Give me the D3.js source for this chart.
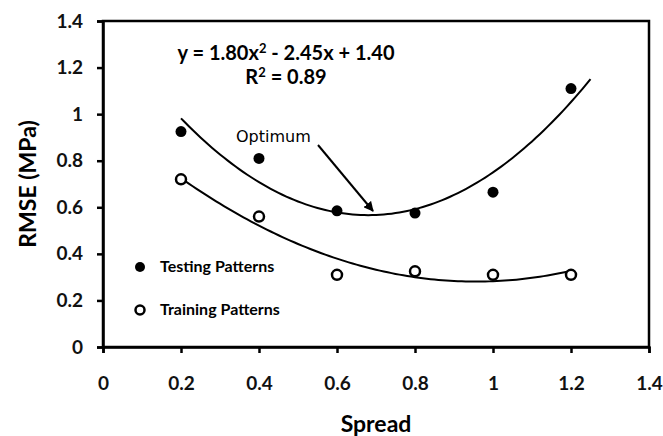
<!DOCTYPE html>
<html>
<head>
<meta charset="utf-8">
<script src="https://cdn.jsdelivr.net/npm/d3@7"></script>
<style>
  body { margin: 0; background: #fff; }
  svg { display: block; font-family: Lato, "Open Sans", sans-serif; }
</style>
</head>
<body>
<svg width="663" height="436"></svg>
<script>
const spread = [0.2, 0.4, 0.6, 0.8, 1.0, 1.2];
const testing = [0.925, 0.81, 0.585, 0.575, 0.665, 1.11];
const training = [0.72, 0.56, 0.31, 0.325, 0.31, 0.31];
const xTicks = [0, 0.2, 0.4, 0.6, 0.8, 1, 1.2, 1.4];
const yTicks = [0, 0.2, 0.4, 0.6, 0.8, 1, 1.2, 1.4];
// trend for testing, as printed on the chart
const testCoef = [1.40, -2.45, 1.80];

const svg = d3.select('svg');
const margin = { left: 103, right: 14, top: 21, bottom: 89 };
const W = 663, H = 436;

const x = d3.scaleLinear().domain([0, 1.4]).range([margin.left, W - margin.right]);
const y = d3.scaleLinear().domain([0, 1.4]).range([H - margin.bottom, margin.top]);

// least squares quadratic for the training points
function quadFit(xs, ys) {
  let s = [0, 0, 0, 0, 0], t = [0, 0, 0];
  xs.forEach((xi, i) => {
    for (let k = 0; k < 5; k++) s[k] += Math.pow(xi, k);
    for (let k = 0; k < 3; k++) t[k] += Math.pow(xi, k) * ys[i];
  });
  const A = [[s[0], s[1], s[2], t[0]], [s[1], s[2], s[3], t[1]], [s[2], s[3], s[4], t[2]]];
  for (let i = 0; i < 3; i++) {
    for (let j = i + 1; j < 3; j++) {
      const f = A[j][i] / A[i][i];
      for (let k = i; k < 4; k++) A[j][k] -= f * A[i][k];
    }
  }
  const c = [0, 0, 0];
  for (let i = 2; i >= 0; i--) {
    let v = A[i][3];
    for (let k = i + 1; k < 3; k++) v -= A[i][k] * c[k];
    c[i] = v / A[i][i];
  }
  return c;
}
const trainCoef = quadFit(spread, training);
const poly = (c, v) => c[0] + c[1] * v + c[2] * v * v;

// frame
svg.append('rect')
  .attr('x', x(0)).attr('y', y(1.4))
  .attr('width', x(1.4) - x(0)).attr('height', y(0) - y(1.4))
  .attr('fill', 'none').attr('stroke', '#000').attr('stroke-width', 2.5);

const xAxis = svg.append('g')
  .attr('transform', `translate(0,${y(0)})`)
  .call(d3.axisBottom(x).tickValues(xTicks).tickSize(6).tickPadding(24).tickFormat(d3.format('')));
const yAxis = svg.append('g')
  .attr('transform', `translate(${x(0)},0)`)
  .call(d3.axisLeft(y).tickValues(yTicks).tickSize(6).tickPadding(14).tickFormat(d3.format('')));
[xAxis, yAxis].forEach(g => {
  g.select('.domain').attr('stroke-width', 2.5);
  g.selectAll('.tick line').attr('stroke-width', 2.5);
  g.selectAll('.tick text').attr('font-size', 19).attr('font-weight', 'bold')
    .attr('font-family', 'Lato, sans-serif').attr('fill', '#111');
});

svg.append('text')
  .attr('x', (x(0) + x(1.4)) / 2).attr('y', 432)
  .attr('text-anchor', 'middle').attr('font-size', 23).attr('font-weight', 'bold')
  .text('Spread');
svg.append('text')
  .attr('transform', `translate(36,${(y(0) + y(1.4)) / 2}) rotate(-90)`)
  .attr('text-anchor', 'middle').attr('font-size', 23).attr('font-weight', 'bold')
  .text('RMSE (MPa)');

// trend lines
const line = d3.line().x(d => x(d[0])).y(d => y(d[1]));
const testPts = d3.range(0.2, 1.2501, 0.01).map(v => [v, poly(testCoef, v)]);
const trainPts = d3.range(0.2, 1.2001, 0.01).map(v => [v, poly(trainCoef, v)]);
[testPts, trainPts].forEach(p => {
  svg.append('path').attr('d', line(p))
    .attr('fill', 'none').attr('stroke', '#000').attr('stroke-width', 2);
});

// points
svg.selectAll('.test').data(spread).join('circle')
  .attr('cx', d => x(d)).attr('cy', (d, i) => y(testing[i]))
  .attr('r', 5.5).attr('fill', '#000');
svg.selectAll('.train').data(spread).join('circle')
  .attr('cx', d => x(d)).attr('cy', (d, i) => y(training[i]))
  .attr('r', 5).attr('fill', '#fff').attr('stroke', '#000').attr('stroke-width', 2.5);

// legend
svg.append('circle').attr('cx', 140).attr('cy', 267).attr('r', 5).attr('fill', '#000');
svg.append('circle').attr('cx', 140).attr('cy', 310).attr('r', 4.5)
  .attr('fill', '#fff').attr('stroke', '#000').attr('stroke-width', 2.5);
svg.append('text').attr('x', 160).attr('y', 272).attr('font-size', 16).attr('font-weight', 'bold')
  .text('Testing Patterns');
svg.append('text').attr('x', 160).attr('y', 315).attr('font-size', 16).attr('font-weight', 'bold')
  .text('Training Patterns');

// equation
const eq = svg.append('text').attr('x', 286).attr('y', 60).attr('text-anchor', 'middle')
  .attr('font-size', 20).attr('font-weight', 'bold');
eq.append('tspan').text('y = 1.80x');
eq.append('tspan').attr('font-size', 13).attr('dy', -7).text('2');
eq.append('tspan').attr('dy', 7).text(' - 2.45x + 1.40');
const r2 = svg.append('text').attr('x', 286).attr('y', 84).attr('text-anchor', 'middle')
  .attr('font-size', 20).attr('font-weight', 'bold');
r2.append('tspan').text('R');
r2.append('tspan').attr('font-size', 13).attr('dy', -7).text('2');
r2.append('tspan').attr('dy', 7).text(' = 0.89');

// optimum annotation
svg.append('text').attr('x', 236).attr('y', 142).attr('font-size', 16)
  .attr('font-family', '"DejaVu Sans", sans-serif').text('Optimum');
svg.append('defs').append('marker')
  .attr('id', 'arr').attr('viewBox', '0 0 10 10').attr('refX', 9).attr('refY', 5)
  .attr('markerWidth', 5).attr('markerHeight', 5).attr('orient', 'auto')
  .append('path').attr('d', 'M0,0 L10,5 L0,10 z').attr('fill', '#000');
svg.append('line').attr('x1', 318).attr('y1', 145).attr('x2', 373).attr('y2', 211)
  .attr('stroke', '#000').attr('stroke-width', 2).attr('marker-end', 'url(#arr)');
</script>
</body>
</html>
